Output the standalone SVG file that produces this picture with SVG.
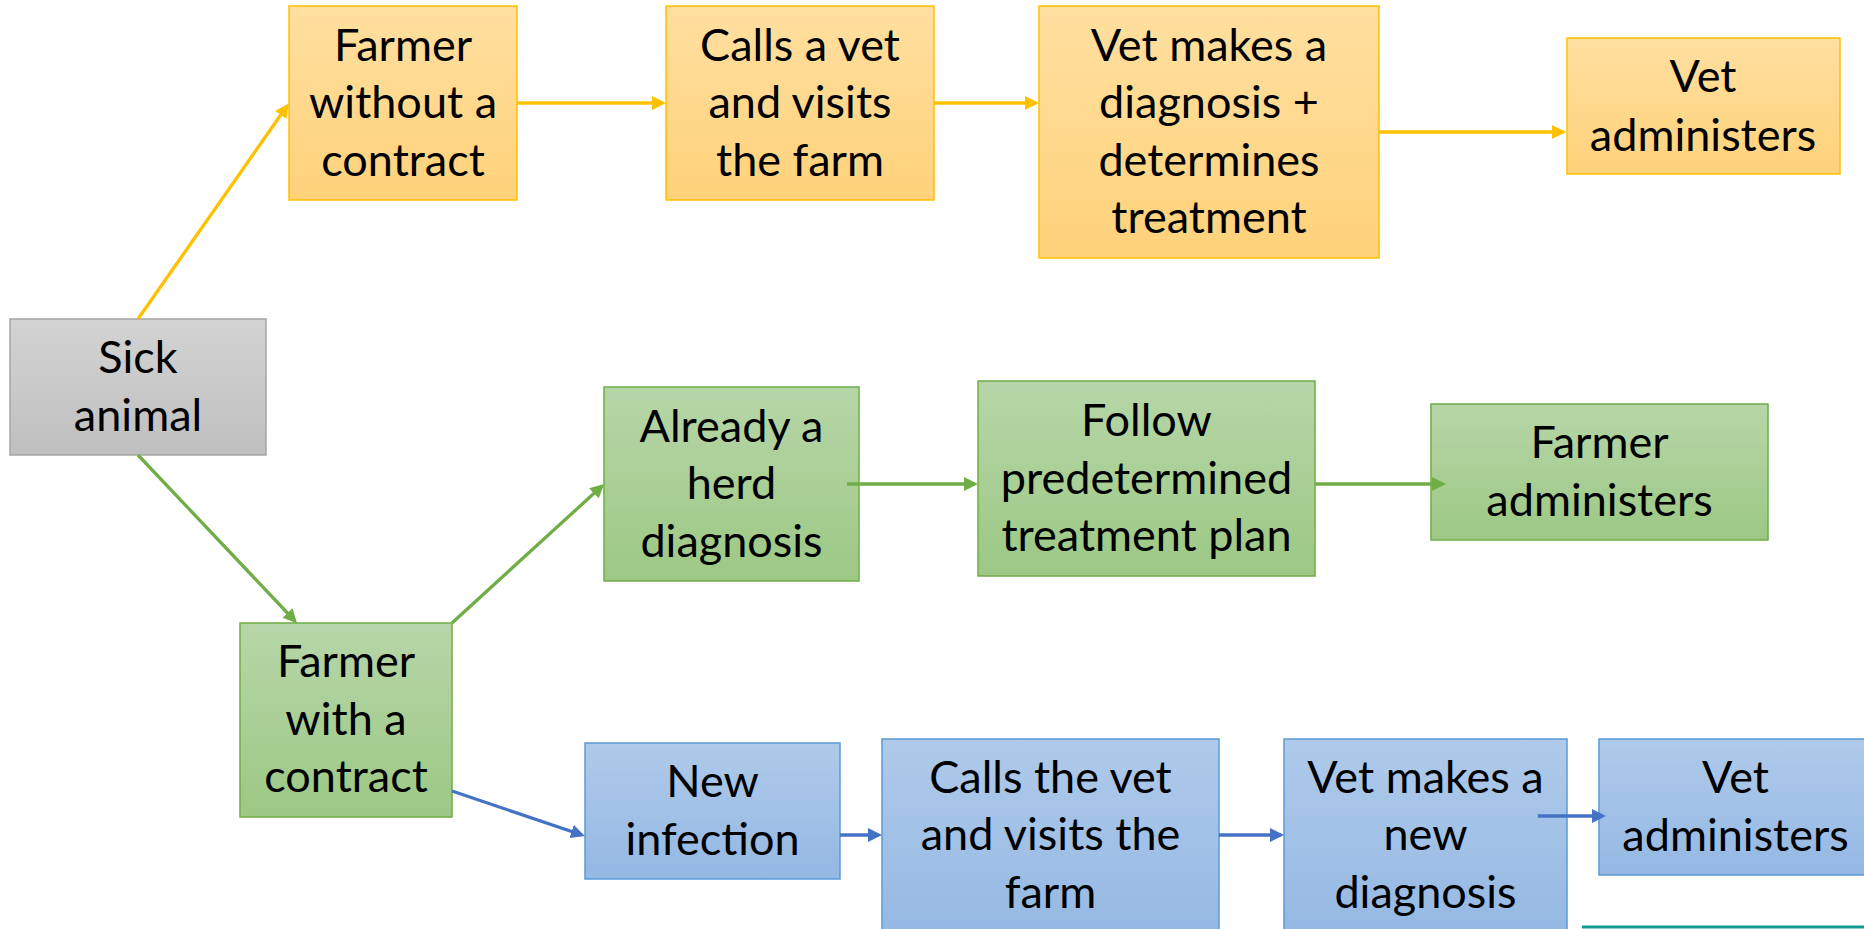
<svg xmlns="http://www.w3.org/2000/svg" width="1864" height="929" viewBox="0 0 1864 929">
<defs>
<linearGradient id="gy" x1="0" y1="0" x2="0" y2="1"><stop offset="0" stop-color="#FFDFA0"/><stop offset="1" stop-color="#FFD27A"/></linearGradient>
<linearGradient id="gg" x1="0" y1="0" x2="0" y2="1"><stop offset="0" stop-color="#B7D6A8"/><stop offset="1" stop-color="#9CC884"/></linearGradient>
<linearGradient id="gb" x1="0" y1="0" x2="0" y2="1"><stop offset="0" stop-color="#AFCAEA"/><stop offset="1" stop-color="#94B8E3"/></linearGradient>
<linearGradient id="gs" x1="0" y1="0" x2="0" y2="1"><stop offset="0" stop-color="#D3D3D3"/><stop offset="1" stop-color="#BFBFBF"/></linearGradient>
<marker id="ay" markerUnits="userSpaceOnUse" markerWidth="14" markerHeight="14" viewBox="0 0 14 14" refX="11" refY="7" orient="auto"><path d="M0,0 L14,7 L0,14 z" fill="#FFC000"/></marker>
<marker id="ag" markerUnits="userSpaceOnUse" markerWidth="14" markerHeight="14" viewBox="0 0 14 14" refX="11" refY="7" orient="auto"><path d="M0,0 L14,7 L0,14 z" fill="#70AD47"/></marker>
<marker id="ab" markerUnits="userSpaceOnUse" markerWidth="14" markerHeight="14" viewBox="0 0 14 14" refX="11" refY="7" orient="auto"><path d="M0,0 L14,7 L0,14 z" fill="#4472C4"/></marker>
</defs>
<style>
.y{fill:url(#gy);stroke:#FFC000;stroke-width:1.5}
.g{fill:url(#gg);stroke:#70AD47;stroke-width:1.5}
.b{fill:url(#gb);stroke:#5B9BD5;stroke-width:1.5}
.s{fill:url(#gs);stroke:#A5A5A5;stroke-width:1.5}
text{font-family:Lato,"Liberation Sans","DejaVu Sans",sans-serif;font-size:45px;fill:#000;text-anchor:middle}
.cy{stroke:#FFC000;stroke-width:3.3;fill:none;marker-end:url(#ay)}
.cg{stroke:#70AD47;stroke-width:3.3;fill:none;marker-end:url(#ag)}
.cb{stroke:#4472C4;stroke-width:3.3;fill:none;marker-end:url(#ab)}
</style>
<rect width="1864" height="929" fill="#FFFFFF"/>
<g id="n-sick"><rect class="s" x="10" y="319" width="256" height="136"/><text x="138" y="373">Sick</text><text x="138" y="431">animal</text></g>
<g id="n-farmer-without"><rect class="y" x="289" y="6" width="228" height="194"/><text x="403" y="61">Farmer</text><text x="403" y="118">without a</text><text x="403" y="176">contract</text></g>
<g id="n-calls-a-vet"><rect class="y" x="666" y="6" width="268" height="194"/><text x="800" y="61">Calls a vet</text><text x="800" y="118">and visits</text><text x="800" y="176">the farm</text></g>
<g id="n-vet-diagnosis"><rect class="y" x="1039" y="6" width="340" height="252"/><text x="1209" y="61">Vet makes a</text><text x="1209" y="118">diagnosis +</text><text x="1209" y="176">determines</text><text x="1209" y="233">treatment</text></g>
<g id="n-vet-admin-1"><rect class="y" x="1567" y="38" width="273" height="136"/><text x="1703" y="92">Vet</text><text x="1703" y="151">administers</text></g>
<g id="n-already"><rect class="g" x="604" y="387" width="255" height="194"/><text x="731.5" y="442">Already a</text><text x="731.5" y="499">herd</text><text x="731.5" y="557">diagnosis</text></g>
<g id="n-follow"><rect class="g" x="978" y="381" width="337" height="195"/><text x="1146.5" y="436">Follow</text><text x="1146.5" y="494">predetermined</text><text x="1146.5" y="551">treatment plan</text></g>
<g id="n-farmer-admin"><rect class="g" x="1431" y="404" width="337" height="136"/><text x="1599.5" y="458">Farmer</text><text x="1599.5" y="516">administers</text></g>
<g id="n-farmer-with"><rect class="g" x="240" y="623" width="212" height="194"/><text x="346" y="677">Farmer</text><text x="346" y="735">with a</text><text x="346" y="792">contract</text></g>
<g id="n-new-infection"><rect class="b" x="585" y="743" width="255" height="136"/><text x="712.5" y="797">New</text><text x="712.5" y="855">infection</text></g>
<g id="n-calls-the-vet"><rect class="b" x="882" y="739" width="337" height="200"/><text x="1050.5" y="793">Calls the vet</text><text x="1050.5" y="850">and visits the</text><text x="1050.5" y="908">farm</text></g>
<g id="n-vet-new-diagnosis"><rect class="b" x="1284" y="739" width="283" height="200"/><text x="1425.5" y="793">Vet makes a</text><text x="1425.5" y="850">new</text><text x="1425.5" y="908">diagnosis</text></g>
<g id="n-vet-admin-2"><rect class="b" x="1599" y="739" width="273" height="136"/><text x="1735.5" y="793">Vet</text><text x="1735.5" y="851">administers</text></g>
<g id="connectors">
<path class="cy" d="M138,319 L287,106"/>
<path class="cy" d="M517,103 L663,103"/>
<path class="cy" d="M934,103 L1036,103"/>
<path class="cy" d="M1379,132 L1563,132"/>
<path class="cg" d="M138,455 L295,621"/>
<path class="cg" d="M452,623 L602,486"/>
<path class="cg" d="M847,484 L975,484"/>
<path class="cg" d="M1315,484 L1443,484"/>
<path class="cb" d="M452,791 L582,835"/>
<path class="cb" d="M840,835 L879,835"/>
<path class="cb" d="M1219,835 L1281,835"/>
<path class="cb" d="M1538,816 L1603,816"/>
</g>
<line x1="1582" y1="927" x2="1864" y2="927" stroke="#139A93" stroke-width="3"/>
</svg>
